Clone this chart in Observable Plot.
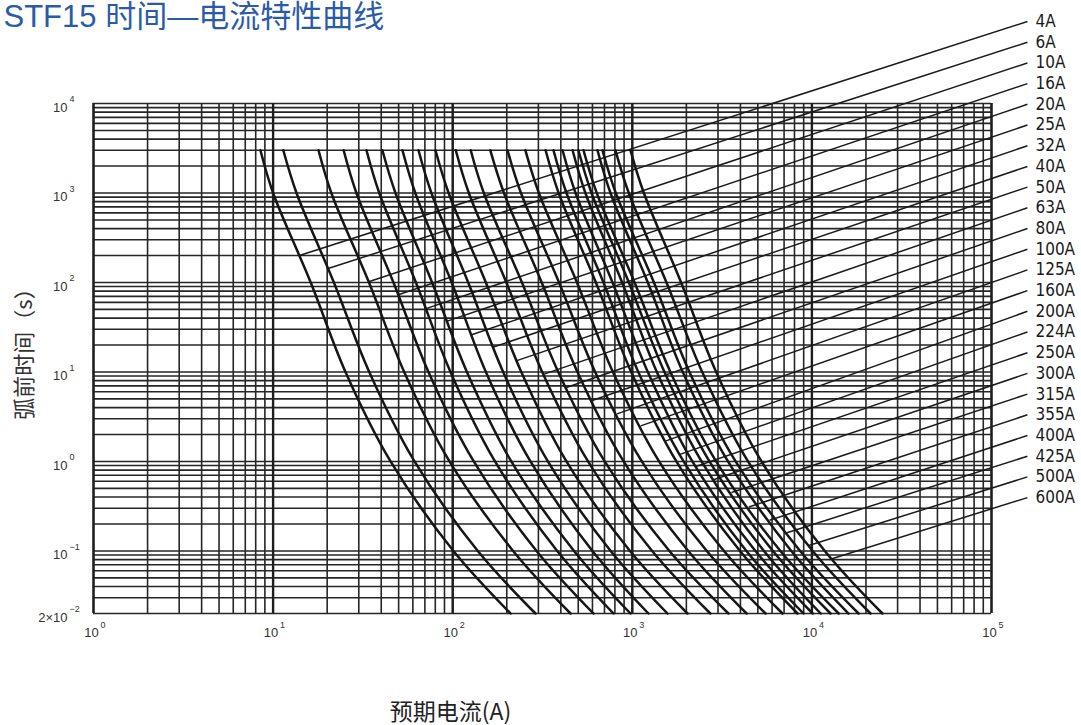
<!DOCTYPE html>
<html><head><meta charset="utf-8">
<script src="https://cdn.jsdelivr.net/npm/d3@7"></script>
<script src="https://cdn.jsdelivr.net/npm/@observablehq/plot@0.6"></script>
<style>body{margin:0;background:#fff;overflow:hidden}</style>
</head><body><div id="chart"></div>
<script>
// Fuse ratings (legend labels)
const ratings = ["4A","6A","10A","16A","20A","25A","32A","40A","50A","63A","80A","100A","125A","160A","200A","224A","250A","300A","315A","355A","400A","425A","500A","600A"];
// Pre-arcing times (s) at which currents were read
const times = [3000, 1000, 100, 10, 1, 0.1, 0.02];
// Prospective current (A) per rating at the times above
const c4A   = [8.5, 10.0, 16.2, 25.3, 45.1, 101, 210];
const c6A   = [11.4, 13.5, 21.8, 34.3, 61.3, 138, 289];
const c10A  = [17.9, 21.1, 34.2, 53.7, 96, 217, 453];
const c16A  = [24.7, 29.1, 46.8, 73.3, 131, 293, 608];
const c20A  = [33.1, 39.0, 62.4, 97.2, 172, 382, 786];
const c25A  = [40.6, 48.0, 76.8, 120, 212, 474, 977];
const c32A  = [52.5, 61.9, 98.7, 153, 271, 600, 1230];
const c40A  = [64.5, 76.1, 122, 191, 339, 758, 1570];
const c50A  = [80.2, 94.9, 153, 241, 430, 971, 2030];
const c63A  = [104, 123, 199, 315, 567, 1290, 2720];
const c80A  = [126, 149, 243, 387, 702, 1610, 3430];
const c100A = [162, 193, 313, 495, 895, 2050, 4330];
const c125A = [202, 240, 391, 621, 1130, 2600, 5520];
const c160A = [254, 302, 492, 780, 1410, 3240, 6860];
const c200A = [329, 389, 627, 986, 1760, 3980, 8320];
const c224A = [364, 430, 691, 1080, 1930, 4320, 8980];
const c250A = [409, 483, 776, 1220, 2160, 4850, 10100];
const c300A = [465, 548, 878, 1370, 2430, 5410, 11200];
const c315A = [501, 593, 957, 1510, 2690, 6070, 12700];
const c355A = [535, 634, 1030, 1630, 2930, 6680, 14100];
const c400A = [640, 756, 1220, 1910, 3410, 7680, 16000];
const c425A = [682, 809, 1320, 2080, 3760, 8600, 18200];
const c500A = [806, 956, 1550, 2450, 4410, 10100, 21200];
const c600A = [977, 1160, 1870, 2930, 5240, 11800, 24700];
// Time (s) where each leader line leaves its curve
const anchorTimes = [200, 143, 102, 73, 51, 37, 26, 19, 13.4, 9.4, 6.7, 4.8, 3.4, 2.5, 1.7, 1.2, 0.88, 0.63, 0.45, 0.31, 0.22, 0.16, 0.115, 0.082];
// Tick labels
const xTickVals = [1, 10, 100, 1000, 10000, 100000];
const xTickExp  = ["0","1","2","3","4","5"];
const yTickVals = [0.02, 0.1, 1, 10, 100, 1000, 10000];
const yTickBase = ["2×10","10","10","10","10","10","10"];
const yTickExp  = ["-2","-1","0","1","2","3","4"];

const curves = [c4A,c6A,c10A,c16A,c20A,c25A,c32A,c40A,c50A,c63A,c80A,c100A,c125A,c160A,c200A,c224A,c250A,c300A,c315A,c355A,c400A,c425A,c500A,c600A];
const pts = curves.flatMap((c, i) => times.map((t, k) => ({rating: ratings[i], t, I: c[k]})));

// position of a leader's start on its curve (log-log interpolation of the read points)
function currentAt(c, t) {
  const lt = Math.log10(t);
  for (let k = 0; k < times.length - 1; k++) {
    const a = Math.log10(times[k]), b = Math.log10(times[k + 1]);
    if (lt <= a && lt >= b) {
      const f = (lt - a) / (b - a);
      return 10 ** (Math.log10(c[k]) + f * (Math.log10(c[k + 1]) - Math.log10(c[k])));
    }
  }
  return c[c.length - 1];
}
const labelI = 10 ** 5.2;
const leaders = ratings.map((r, i) => ({
  rating: r,
  I1: currentAt(curves[i], anchorTimes[i]), t1: anchorTimes[i],
  I2: labelI, t2: 10 ** (4.916 - 0.2313 * i)
}));

const xGrid = d3.scaleLog().domain([1, 1e5]).ticks();
const yGrid = d3.scaleLog().domain([0.02, 1e4]).ticks();
const xDec = xGrid.filter(v => Math.abs(Math.log10(v) - Math.round(Math.log10(v))) < 1e-9);

const tickFont = "Liberation Sans, Arial, sans-serif";
const cjk = "Noto Sans CJK SC, sans-serif";

const chart = Plot.plot({
  width: 1081, height: 725,
  marginTop: 103, marginBottom: 112, marginLeft: 93, marginRight: 90,
  x: {type: "log", domain: [1, 1e5], axis: null},
  y: {type: "log", domain: [0.02, 1e4], axis: null},
  style: {background: "#fff"},
  marks: [
    Plot.ruleY(yGrid, {stroke: "#262626", strokeWidth: 1.6}),
    Plot.ruleX(xGrid, {stroke: "#262626", strokeWidth: 1.6}),
    Plot.ruleX(xDec, {stroke: "#1e1e1e", strokeWidth: 2.4}),
    Plot.link(leaders, {x1: "I1", y1: "t1", x2: "I2", y2: "t2", stroke: "#1a1a1a", strokeWidth: 1.5}),
    Plot.line(pts, {x: "I", y: "t", z: "rating", curve: "catmull-rom", stroke: "#161616", strokeWidth: 2.5}),
    Plot.text(leaders, {x: "I2", y: "t2", text: "rating", dx: 8, textAnchor: "start", fontSize: 17, fontFamily: "DejaVu Sans Condensed, DejaVu Sans, sans-serif", fill: "#1a1a1a"}),
    // x tick labels
    Plot.text(xTickVals, {x: d => d, frameAnchor: "bottom", text: () => "10", dy: 23, dx: -2, textAnchor: "middle", fontSize: 13, fontFamily: tickFont, fill: "#333"}),
    Plot.text(xTickVals, {x: d => d, frameAnchor: "bottom", text: (d, i) => xTickExp[i], dx: 7, dy: 14, textAnchor: "start", fontSize: 9, fontFamily: tickFont, fill: "#333"}),
    // y tick labels
    Plot.text(yTickVals, {y: d => d, frameAnchor: "left", text: (d, i) => yTickBase[i], dx: -26, dy: 4, textAnchor: "end", fontSize: 13, fontFamily: tickFont, fill: "#333"}),
    Plot.text(yTickVals, {y: d => d, frameAnchor: "left", text: (d, i) => yTickExp[i].replace("-", "−"), dx: -24, dy: -4, textAnchor: "start", fontSize: 9, fontFamily: tickFont, fill: "#333"}),
    // axis titles and chart title
    Plot.text(["弧前时间（s）"], {frameAnchor: "left", rotate: -90, textAnchor: "middle", dx: -69, dy: -10, fontSize: 22, fontFamily: cjk, fill: "#333"}),
    Plot.text(["预期电流(A)"], {frameAnchor: "bottom", textAnchor: "middle", dx: -92, dy: 106, fontSize: 23, fontFamily: cjk, fill: "#222"}),
    Plot.text(["STF15 时间—电流特性曲线"], {frameAnchor: "top-left", dx: -90, dy: -77, textAnchor: "start", lineAnchor: "bottom", fontSize: 31, fontFamily: "Liberation Sans, Noto Sans CJK SC, sans-serif", fill: "#2b5ba8"})
  ]
});
document.getElementById("chart").appendChild(chart);
</script>
</body></html>
